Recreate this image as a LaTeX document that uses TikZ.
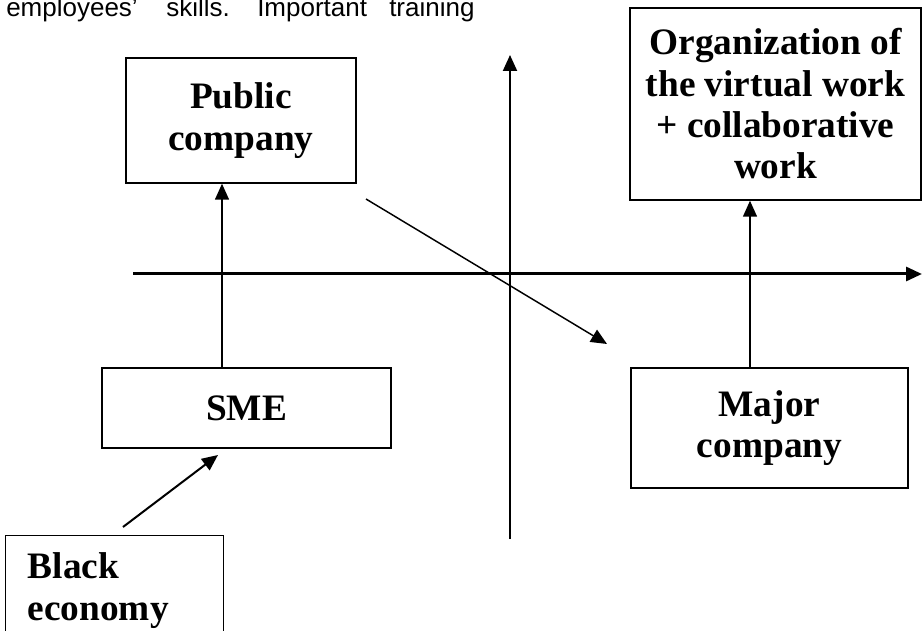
\documentclass[tikz,border=0pt]{standalone}
\usepackage{fontspec}
\setmainfont{Liberation Serif}
\newfontfamily\arialfont{Liberation Sans}
\usetikzlibrary{positioning,calc,arrows.meta}
\tikzset{>={Triangle[length=12pt,width=10.5pt]}}
\tikzset{box/.style={draw,line width=1.1pt,inner sep=0pt,align=center,
  font=\fontsize{28}{31}\selectfont\bfseries},
  word/.style={anchor=base west,inner sep=0pt,font=\arialfont\fontsize{19.5}{22}\selectfont}}

\begin{document}
\begin{tikzpicture}[x=0.75pt,y=-0.75pt]
\useasboundingbox (0,0) rectangle (922,631);
\clip (0,0) rectangle (922,631);
% page text above the figure
\node[word] (w1) at (6,17) {employees’};
\node[word] (w2) at (166,17) {skills.};
\node[word] (w3) at (257,17) {Important};
\node[word] (w4) at (389,17) {training};
% axes
\draw[->,line width=2.25pt] (133,274) coordinate (xl) -- (922,274) coordinate (xr);
\draw[->,line width=1.5pt] (510,539) coordinate (yb) -- (510,55) coordinate (yt);
% boxes
\node[box,minimum width=172.5pt,minimum height=93.75pt] (public) at (241,120.5) {Public\\company};
\node[box,minimum width=218.25pt,minimum height=144pt] (org) at (775.5,104) {Organization of\\the virtual work\\+ collaborative\\work};
\node[box,minimum width=216.75pt,minimum height=60pt] (sme) at (246.5,408) {SME};
\node[box,minimum width=207.75pt,minimum height=90pt] (major) at (769.5,428) {Major\\company};
\node[box,anchor=north west,align=left,text width=130.5pt,inner xsep=16.5pt,minimum height=82.5pt] (black) at (5,535) {Black\\economy};
% arrows
\draw[->,line width=1.1pt] (sme.north -| 222,0) -- (public.south -| 222,0);
\draw[->,line width=1.1pt] (major.north -| 750,0) -- (org.south -| 750,0);
\coordinate (d1) at (366,199);
\coordinate (d2) at (607,344);
\draw[->,line width=1.1pt] (d1) -- (d2);
\coordinate (b1) at (123,527);
\coordinate (b2) at (218,455);
\draw[->,line width=1.5pt] (b1) -- (b2);
\end{tikzpicture}
\end{document}
